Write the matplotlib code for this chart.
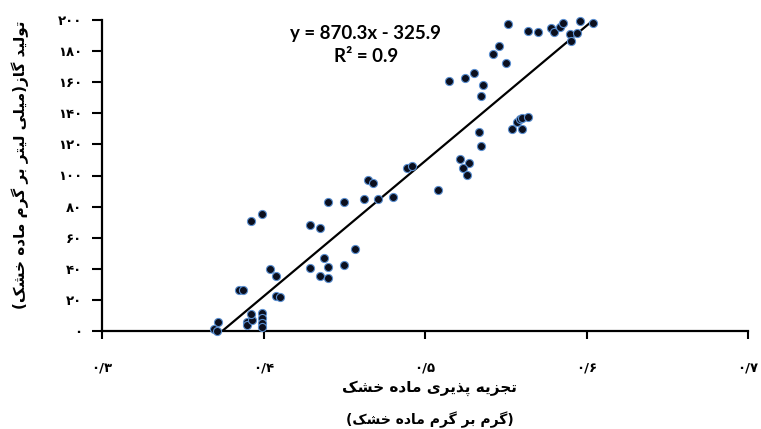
import numpy as np
import matplotlib.pyplot as plt

# digestibility (g/g DM) and gas production (ml/g DM)
digest = [0.3695, 0.371, 0.372, 0.385, 0.3875, 0.390, 0.390, 0.393, 0.392,
          0.392, 0.399, 0.399, 0.399, 0.399, 0.399, 0.404, 0.408, 0.408,
          0.410, 0.429, 0.435, 0.429, 0.4377, 0.440, 0.435, 0.440, 0.440,
          0.450, 0.450, 0.4567, 0.462, 0.4645, 0.468, 0.4707, 0.480, 0.489,
          0.4918, 0.5079, 0.5149, 0.5248, 0.5303, 0.536, 0.5349, 0.5217,
          0.5272, 0.5237, 0.5258, 0.5336, 0.5349, 0.5419, 0.5458, 0.5501,
          0.5516, 0.5541, 0.5572, 0.5588, 0.5603, 0.5603, 0.564, 0.564,
          0.5698, 0.578, 0.5799, 0.5836, 0.5853, 0.5898, 0.5904, 0.5939,
          0.596, 0.6042]
gas = [1, 0, 6, 26.4, 26.4, 6, 4, 7, 11,
       70.7, 75, 11.4, 8.2, 5.3, 2.8, 39.7, 35.4, 22.7,
       21.7, 68.2, 66, 40.3, 46.7, 41, 35.4, 33.9, 83.2,
       83.2, 42.4, 52.7, 84.7, 97.1, 95.4, 84.7, 86, 104.6,
       106.3, 90.7, 161, 163, 165.6, 158.5, 151.3, 110.4,
       107.8, 104.6, 100.3, 128.2, 119, 178, 183.5, 172.5,
       197.4, 130, 134.6, 136.3, 137.2, 129.7, 137.8, 192.9,
       192, 194.7, 192.1, 195.7, 197.9, 190.8, 186.5, 191.4,
       199.5, 198.3]
slope, intercept = 870.3, -325.9

x_ticks = [0.3, 0.4, 0.5, 0.6, 0.7]
y_ticks = list(range(0, 201, 20))

# --- minimal persian shaping (matplotlib has no bidi / joining) ---
FORMS = {  # isolated, final, initial, medial
    'ا': ('\uFE8D', '\uFE8E'), 'د': ('\uFEA9', '\uFEAA'), 'ذ': ('\uFEAB', '\uFEAC'),
    'ر': ('\uFEAD', '\uFEAE'), 'ز': ('\uFEAF', '\uFEB0'), 'و': ('\uFEED', '\uFEEE'),
    'ب': ('\uFE8F', '\uFE90', '\uFE91', '\uFE92'),
    'پ': ('\uFB56', '\uFB57', '\uFB58', '\uFB59'),
    'ت': ('\uFE95', '\uFE96', '\uFE97', '\uFE98'),
    'ج': ('\uFE9D', '\uFE9E', '\uFE9F', '\uFEA0'),
    'خ': ('\uFEA5', '\uFEA6', '\uFEA7', '\uFEA8'),
    'ش': ('\uFEB5', '\uFEB6', '\uFEB7', '\uFEB8'),
    'ک': ('\uFB8E', '\uFB8F', '\uFB90', '\uFB91'),
    'گ': ('\uFB92', '\uFB93', '\uFB94', '\uFB95'),
    'ل': ('\uFEDD', '\uFEDE', '\uFEDF', '\uFEE0'),
    'م': ('\uFEE1', '\uFEE2', '\uFEE3', '\uFEE4'),
    'ه': ('\uFEE9', '\uFEEA', '\uFEEB', '\uFEEC'),
    'ی': ('\uFBFC', '\uFBFD', '\uFBFE', '\uFBFF'),
}


def fa(text):
    out = []
    for i, ch in enumerate(text):
        if ch not in FORMS:
            out.append(ch)
            continue
        prev = text[i - 1] if i > 0 else ''
        nxt = text[i + 1] if i + 1 < len(text) else ''
        join_prev = prev in FORMS and len(FORMS[prev]) == 4
        join_next = len(FORMS[ch]) == 4 and nxt in FORMS
        f = FORMS[ch]
        if join_prev and join_next:
            out.append(f[3])
        elif join_prev:
            out.append(f[1])
        elif join_next:
            out.append(f[2])
        else:
            out.append(f[0])
    vis = ''.join(reversed(out))
    return vis.translate(str.maketrans('()', ')('))


def fa_num(s):
    return s.translate(str.maketrans('0123456789.', '۰۱۲۳۴۵۶۷۸۹/'))


plt.rcParams['font.family'] = ['DejaVu Sans']

fig = plt.figure(figsize=(7.61, 4.29), dpi=100)
ax = fig.add_axes([102 / 761, 98 / 429, 646 / 761, 311 / 429])

ax.scatter(digest, gas, s=34, c='#0b0f1e', edgecolors='#5b8fd0',
           linewidths=0.8, zorder=3, clip_on=False)
xl = np.array([min(digest), max(digest)])
ax.plot(xl, slope * xl + intercept, color='black', lw=1.6, zorder=2)

ax.set_xlim(0.3, 0.7)
ax.set_ylim(0, 200)
ax.set_xticks(x_ticks)
ax.set_yticks(y_ticks)
ax.set_xticklabels([fa_num('%.1f' % v) for v in x_ticks],
                   fontsize=9.5, fontweight='bold')
ax.set_yticklabels([fa_num(str(v)) for v in y_ticks], fontsize=9.5,
                   fontweight='bold')
ax.tick_params(axis='x', length=6, width=1.5, pad=16, direction='out')
ax.tick_params(axis='y', length=7, width=1.5, pad=7, direction='out')
for side in ['top', 'right']:
    ax.spines[side].set_visible(False)
for side in ['left', 'bottom']:
    ax.spines[side].set_linewidth(1.6)

fig.text(366 / 761, 1 - 33 / 429, 'y = 870.3x - 325.9', ha='center',
         va='center', fontsize=13.5, fontweight='bold', family='Lato')
fig.text(366 / 761, 1 - 57 / 429, 'R² = 0.9', ha='center', va='center',
         fontsize=13.5, fontweight='bold', family='Lato')

fig.text(430 / 761, 1 - 388 / 429, fa('تجزیه پذیری ماده خشک'), ha='center',
         va='center', fontsize=11, fontweight='bold')
fig.text(430 / 761, 1 - 420 / 429, fa('(گرم بر گرم ماده خشک)'), ha='center',
         va='center', fontsize=10, fontweight='bold')
fig.text(20 / 761, 1 - 165 / 429, fa('تولید گاز(میلی لیتر بر گرم ماده خشک)'),
         ha='center', va='center', rotation=90, fontsize=11,
         fontweight='bold')

fig.savefig('out.png', dpi=100)
